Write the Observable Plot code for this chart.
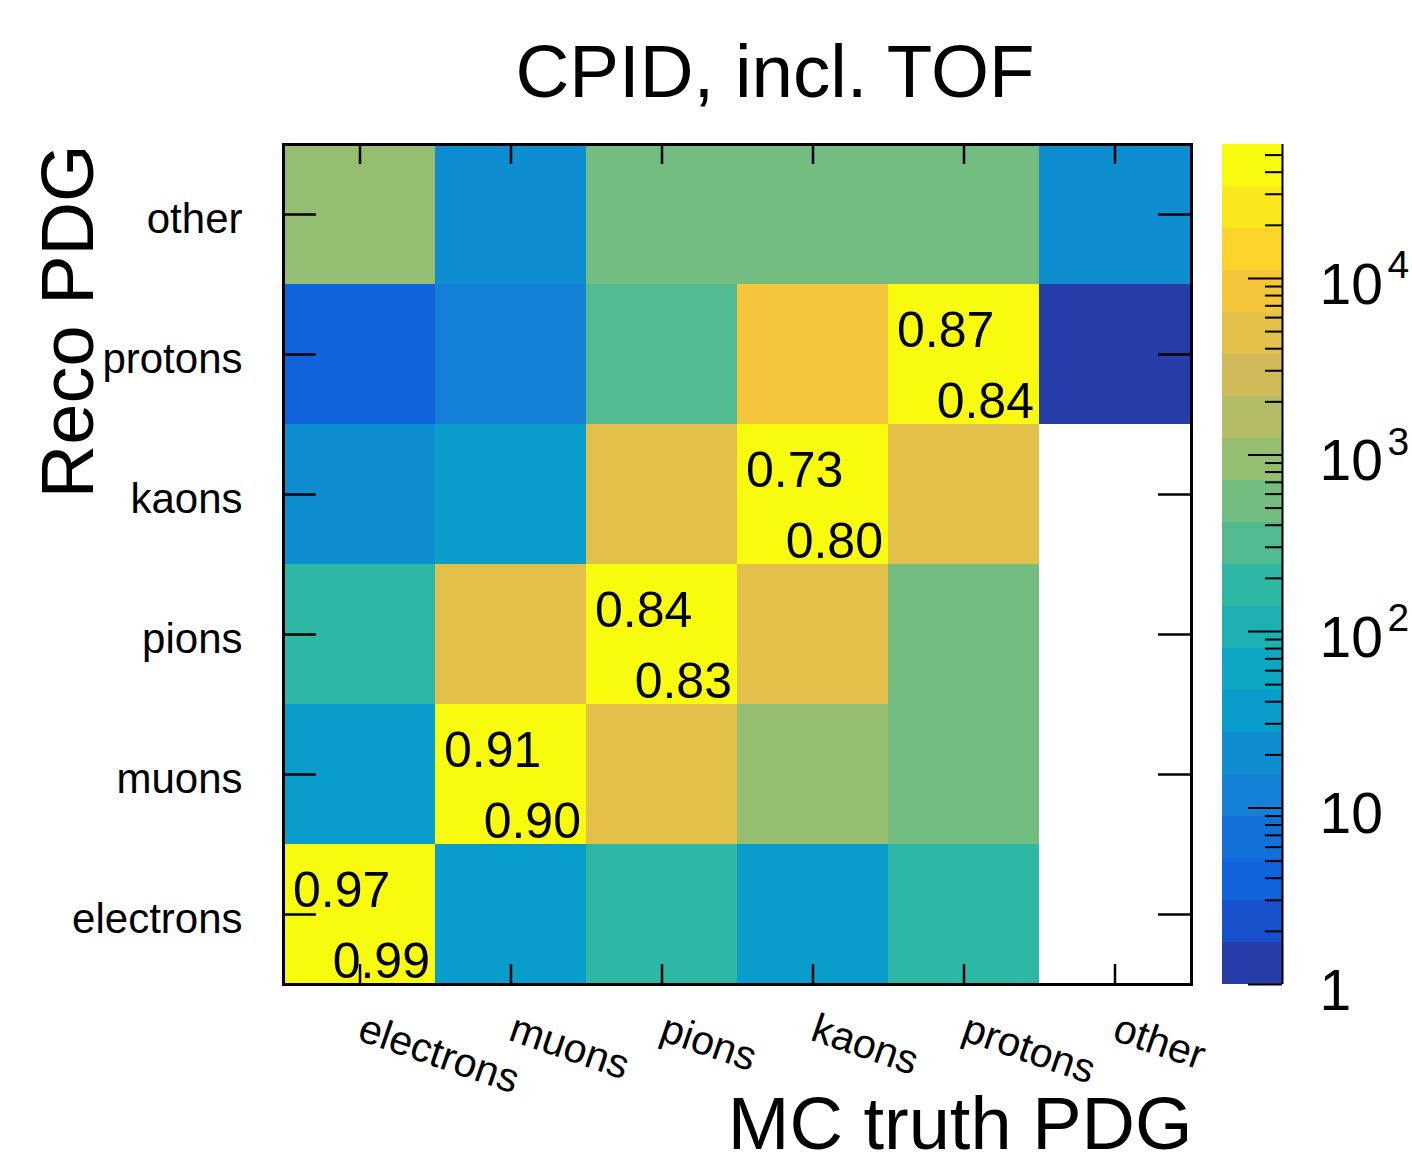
<!DOCTYPE html>
<html>
<head>
<meta charset="utf-8">
<script src="https://cdn.jsdelivr.net/npm/d3@7"></script>
<script src="https://cdn.jsdelivr.net/npm/@observablehq/plot@0.6"></script>
<style>
  html, body { margin: 0; padding: 0; background: #fff; }
  #wrap { position: relative; width: 1412px; height: 1170px; overflow: hidden; font-family: "Liberation Sans", Arial, sans-serif; }
  #title { position: absolute; left: 275px; top: 35px; width: 1000px; text-align: center; font-size: 74.5px; line-height: 74.5px; color: #000; margin: 0; font-weight: normal; }
  #main { position: absolute; left: 0; top: 0; }
  #cbar { position: absolute; left: 1200px; top: 0; }
</style>
</head>
<body>
<div id="wrap">
  <div id="main"></div>
  <div id="cbar"></div>
  <h1 id="title">CPID, incl. TOF</h1>
</div>
<script>
// ---- data -------------------------------------------------------------
const cats = ["electrons", "muons", "pions", "kaons", "protons", "other"];
const recoOrder = ["other", "protons", "kaons", "pions", "muons", "electrons"];
// counts per reconstructed species (row), columns = MC truth species in `cats` order
const recoElectrons = [57400, 36, 190, 36, 190, null];
const recoMuons     = [36, 48000, 5000, 950, 560, null];
const recoPions     = [190, 5000, 52000, 5000, 560, null];
const recoKaons     = [20, 36, 5000, 41000, 5000, null];
const recoProtons   = [4, 12, 320, 8500, 38000, 1];
const recoOther     = [950, 20, 560, 560, 560, 20];
// diagonal annotations
const diagCats   = ["electrons", "muons", "pions", "kaons", "protons"];
const diagTop    = ["0.97", "0.91", "0.84", "0.73", "0.87"];
const diagBottom = ["0.99", "0.90", "0.83", "0.80", "0.84"];
// colour axis
const zMin = 1, zMax = 57400, nLevels = 20;
const cbTickValues = [1, 10, 100, 1000, 10000];
const cbTickBase   = ["1", "10", "10", "10", "10"];
const cbTickExp    = ["", "", "2", "3", "4"];
const palette = ["#273da8", "#1751cb", "#1063dc", "#1271d9", "#1480d6",
                 "#0e8ed1", "#099dcc", "#0da7c3", "#1eafb3", "#2eb7a4",
                 "#52ba91", "#74bd80", "#96be71", "#b4bd65", "#d1bb59",
                 "#e3c04a", "#f5c63a", "#fdd32a", "#fbe81c", "#f9fb0e"];

// ---- derived tables ----------------------------------------------------
const rows = [recoElectrons, recoMuons, recoPions, recoKaons, recoProtons, recoOther];
const table = cats.flatMap((reco, i) => cats.map((truth, j) => ({truth, reco, n: rows[i][j]})))
  .filter(d => d.n != null);
const thresholds = d3.range(1, nLevels).map(k => zMin * Math.pow(zMax / zMin, k / nLevels));
const edges = [zMin, ...thresholds, zMax];
const bands = d3.range(nLevels).map(k => ({lo: edges[k], hi: edges[k + 1], mid: Math.sqrt(edges[k] * edges[k + 1])}));
const diag = diagCats.map((c, i) => ({c, top: diagTop[i], bottom: diagBottom[i]}));
const minorTicks = [];
for (const dec of [1, 10, 100, 1000, 10000]) for (let m = 2; m <= 9; m++) if (m * dec < zMax) minorTicks.push(m * dec);
const cbLabels = cbTickValues.map((v, i) => ({v, base: cbTickBase[i], exp: cbTickExp[i]}));

const font = "'Liberation Sans', Arial, Helvetica, sans-serif";
const colorScale = {type: "threshold", domain: thresholds, range: palette};

// ---- main matrix -------------------------------------------------------
const main = Plot.plot({
  width: 1412, height: 1170,
  marginLeft: 283, marginRight: 221, marginTop: 144, marginBottom: 186,
  style: {fontFamily: font, background: "transparent", color: "black"},
  x: {type: "band", domain: cats, padding: 0, axis: null},
  y: {type: "band", domain: recoOrder, padding: 0, axis: null},
  color: colorScale,
  marks: [
    Plot.cell(table, {x: "truth", y: "reco", fill: "n", inset: 0}),
    Plot.text(diag, {x: "c", y: "c", text: "top", textAnchor: "start", lineAnchor: "middle", dx: -67, dy: -24, fontSize: 50, fill: "black"}),
    Plot.text(diag, {x: "c", y: "c", text: "bottom", textAnchor: "end", lineAnchor: "middle", dx: 70, dy: 47, fontSize: 50, fill: "black"}),
    // tick marks (inward)
    Plot.tickX(cats, {x: d => d, insetTop: 820, strokeWidth: 2.5, stroke: "black"}),
    Plot.tickX(cats, {x: d => d, insetBottom: 820, strokeWidth: 2.5, stroke: "black"}),
    Plot.tickY(cats, {y: d => d, insetRight: 875, strokeWidth: 2.5, stroke: "black"}),
    Plot.tickY(cats, {y: d => d, insetLeft: 875, strokeWidth: 2.5, stroke: "black"}),
    Plot.frame({stroke: "black", strokeWidth: 3}),
    // tick labels
    Plot.text(cats, {y: d => d, text: d => d, frameAnchor: "left", textAnchor: "end", lineAnchor: "middle", dx: -41, dy: 5, fontSize: 42, fill: "black"}),
    Plot.text(cats, {x: d => d, text: d => d, frameAnchor: "bottom", textAnchor: "start", lineAnchor: "bottom", rotate: 19, dx: -4, dy: 55, fontSize: 41, fill: "black"}),
    // axis titles
    Plot.text(["MC truth PDG"], {frameAnchor: "bottom-right", textAnchor: "end", lineAnchor: "bottom", dx: 1, dy: 164, fontSize: 74, fill: "black"}),
    Plot.text(["Reco PDG"], {frameAnchor: "top-left", textAnchor: "end", lineAnchor: "bottom", rotate: -90, dx: -191, dy: 0, fontSize: 74, fill: "black"})
  ]
});
document.getElementById("main").append(main);

// ---- colour bar --------------------------------------------------------
const cbar = Plot.plot({
  width: 212, height: 1170,
  marginLeft: 22, marginRight: 130, marginTop: 144, marginBottom: 186,
  style: {fontFamily: font, background: "transparent", color: "black", overflow: "visible"},
  x: {domain: [0, 1], axis: null},
  y: {type: "log", domain: [zMin, zMax], axis: null},
  color: colorScale,
  marks: [
    Plot.rect(bands, {x1: 0, x2: 1, y1: "lo", y2: "hi", fill: "mid"}),
    Plot.ruleX([1], {stroke: "black", strokeWidth: 2}),
    Plot.tickY(cbTickValues, {y: d => d, insetLeft: 26, stroke: "black", strokeWidth: 2}),
    Plot.tickY(minorTicks, {y: d => d, insetLeft: 43, stroke: "black", strokeWidth: 2}),
    Plot.text(cbLabels, {y: "v", text: "base", frameAnchor: "right", textAnchor: "start", lineAnchor: "middle", dx: 37, dy: 7, fontSize: 57, fill: "black"}),
    Plot.text(cbLabels, {y: "v", text: "exp", frameAnchor: "right", textAnchor: "start", lineAnchor: "bottom", dx: 105, dy: 0, fontSize: 39, fill: "black"})
  ]
});
document.getElementById("cbar").append(cbar);
</script>
</body>
</html>
